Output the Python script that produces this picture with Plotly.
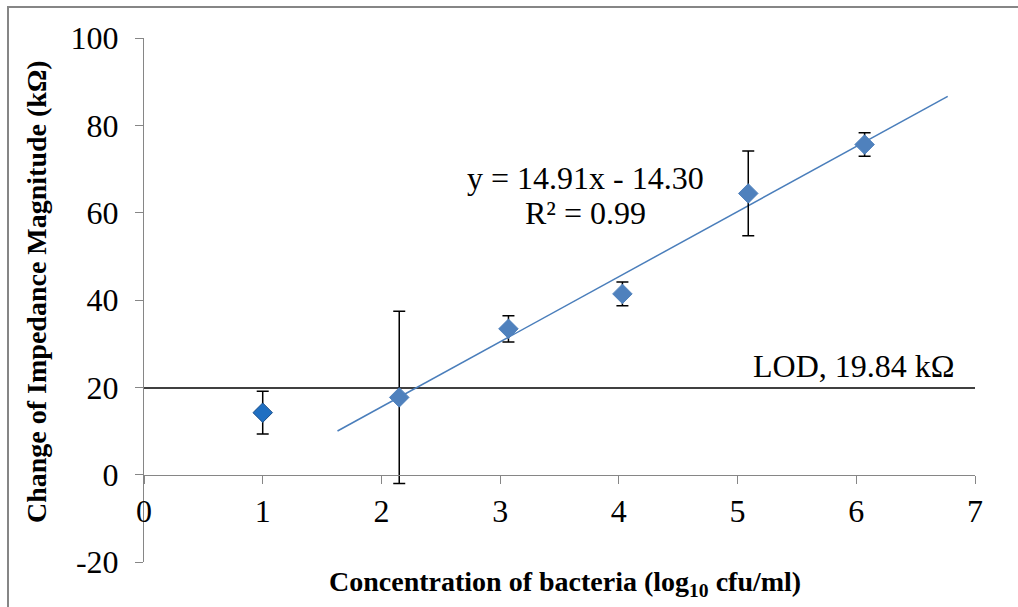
import plotly.graph_objects as go

# ---- data ----
concentration = [1.00, 2.15, 3.07, 4.03, 5.09, 6.07]
impedance = [14.2, 17.7, 33.4, 41.4, 64.4, 75.6]
impedance_err = [4.9, 19.7, 3.0, 2.7, 9.7, 2.7]
slope = 14.91
intercept = -14.30
r_squared = 0.99
trend_x = [1.63, 6.77]
lod_value = 19.84
lod_x = [0, 7]
x_ticks = [0, 1, 2, 3, 4, 5, 6, 7]
y_ticks = [-20, 0, 20, 40, 60, 80, 100]
y_tick_labels = ["-20", "0", "20", "40", "60", "80", "100"]

FONT = "Liberation Serif, Times New Roman, serif"
AXIS_COLOR = "#868686"

W, H = 1018, 607
ML, MR, MT, MB = 144, 43, 38, 45
pw = W - ML - MR
ph = H - MT - MB

trend_y = [slope * x + intercept for x in trend_x]

fig = go.Figure()

# LOD line
fig.add_trace(go.Scatter(x=lod_x, y=[lod_value, lod_value], mode="lines",
                         line=dict(color="black", width=1.5), hoverinfo="skip",
                         showlegend=False))
# trend line
fig.add_trace(go.Scatter(x=trend_x, y=trend_y, mode="lines",
                         line=dict(color="#4A7EBB", width=1.5), hoverinfo="skip",
                         showlegend=False))
# data points
colors = ["#1F6FC2"] + ["#4F81BD"] * (len(concentration) - 1)
line_colors = ["#1A4F8A"] + ["#4F81BD"] * (len(concentration) - 1)
fig.add_trace(go.Scatter(
    x=concentration, y=impedance, mode="markers",
    marker=dict(symbol="diamond", size=15, color=colors,
                line=dict(color=line_colors, width=1)),
    error_y=dict(type="data", array=impedance_err, visible=True,
                 color="black", thickness=1.5, width=6),
    showlegend=False))

y_min, y_max = y_ticks[0], y_ticks[-1]
zero_pos = (0 - y_min) / (y_max - y_min)

fig.update_layout(
    width=W, height=H,
    margin=dict(l=ML, r=MR, t=MT, b=MB),
    paper_bgcolor="white", plot_bgcolor="white",
    font=dict(family=FONT, color="black"),
    xaxis=dict(range=[x_ticks[0], x_ticks[-1]], tickvals=x_ticks,
               anchor="free", position=zero_pos,
               showline=True, linecolor=AXIS_COLOR, linewidth=1,
               ticks="outside", ticklen=8, tickcolor=AXIS_COLOR,
               showgrid=False, zeroline=False,
               tickfont=dict(size=32, family=FONT, color="black")),
    yaxis=dict(range=[y_min, y_max], tickvals=y_ticks, ticktext=y_tick_labels,
               showline=True, linecolor=AXIS_COLOR, linewidth=1,
               ticks="outside", ticklen=8, tickcolor=AXIS_COLOR,
               ticklabelstandoff=10,
               showgrid=False, zeroline=False,
               tickfont=dict(size=32, family=FONT, color="black")),
)

def px_x(p):
    return (p - ML) / pw

def px_y(p):
    return (H - MB - p) / ph

annotations = [
    dict(text=f"y = {slope:.2f}x - {abs(intercept):.2f}", xref="paper", yref="paper",
         x=px_x(585), y=px_y(178), showarrow=False, font=dict(size=32, family=FONT),
         xanchor="center", yanchor="middle"),
    dict(text=f"R² = {r_squared:.2f}", xref="paper", yref="paper",
         x=px_x(585), y=px_y(213), showarrow=False, font=dict(size=32, family=FONT),
         xanchor="center", yanchor="middle"),
    dict(text=f"LOD, {lod_value:.2f} kΩ", xref="paper", yref="paper",
         x=px_x(957), y=px_y(366), showarrow=False, font=dict(size=32, family=FONT),
         xanchor="right", yanchor="middle"),
    dict(text="<b>Concentration of bacteria (log<sub>10</sub> cfu/ml)</b>", xref="paper", yref="paper",
         x=px_x(565), y=px_y(583), showarrow=False, font=dict(size=28, family=FONT),
         xanchor="center", yanchor="middle"),
    dict(text="<b>Change of Impedance Magnitude (kΩ)</b>", xref="paper", yref="paper",
         x=px_x(36), y=px_y(292), showarrow=False, textangle=-90,
         font=dict(size=28, family=FONT), xanchor="center", yanchor="middle"),
]
fig.update_layout(annotations=annotations)

# outer chart border
fig.add_shape(type="rect", xref="paper", yref="paper",
              x0=px_x(8), x1=px_x(W + 20), y0=px_y(H + 20), y1=px_y(7),
              line=dict(color="#868686", width=2), fillcolor="rgba(0,0,0,0)", layer="below")

fig.write_html("out.html", config={"displayModeBar": False},
               post_script="document.body.style.margin='0';document.body.style.padding='0';")
